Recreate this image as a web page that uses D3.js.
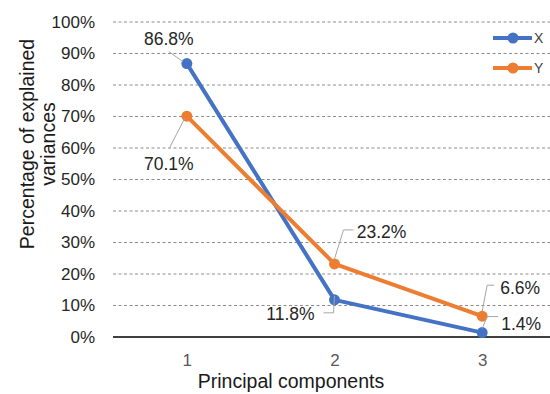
<!DOCTYPE html>
<html>
<head>
<meta charset="utf-8">
<script src="https://cdn.jsdelivr.net/npm/d3@7"></script>
<style>
  html, body { margin: 0; padding: 0; background: #fff; }
  svg { display: block; font-family: "Liberation Sans", Arial, Helvetica, sans-serif; }
</style>
</head>
<body>
<svg id="chart" width="550" height="394"></svg>
<script>
// ---- data ----
const categories = [1, 2, 3];
const seriesNames = ["X", "Y"];
const xValues = [0.868, 0.118, 0.014];
const yValues = [0.701, 0.232, 0.066];
const yTicks = [0, 0.1, 0.2, 0.3, 0.4, 0.5, 0.6, 0.7, 0.8, 0.9, 1.0];

// ---- styling / layout ----
const colors = { X: "#4472C4", Y: "#ED7D31" };
const labelLayout = {
  X: [
    { dx: -18, dy: -19, leader: [[-4, -2], [-18, -12]] },
    { dx: -44, dy: 20, leader: [[0, -4], [-1, 13], [-11, 13]] },
    { dx: 39, dy: -3, leader: [[0, -4], [5, -16], [16, -16]] }
  ],
  Y: [
    { dx: -18, dy: 54, leader: [[-2, 2], [-17, 31]] },
    { dx: 47, dy: -26, leader: [[0, -5], [9, -34], [19, -34]] },
    { dx: 38, dy: -22, leader: [[0, -5], [5, -31], [12, -31]] }
  ]
};

const svg = d3.select("#chart");
const mLeft = 113, mRight = 556, mTop = 22, mBottom = 337;

const x = d3.scalePoint().domain(categories).range([mLeft, mRight]).padding(0.5);
const y = d3.scaleLinear().domain([0, 1]).range([mBottom, mTop]);

// gridlines
svg.append("g")
  .selectAll("line")
  .data(yTicks.filter(d => d > 0))
  .join("line")
  .attr("x1", mLeft).attr("x2", 550)
  .attr("y1", d => y(d)).attr("y2", d => y(d))
  .attr("stroke", "#8c8c8c")
  .attr("stroke-width", 1)
  .attr("stroke-dasharray", "3,2.5");

// y axis tick labels
const yAxis = d3.axisLeft(y).tickValues(yTicks).tickFormat(d3.format(".0%")).tickSize(0).tickPadding(0);
const gy = svg.append("g").attr("transform", `translate(${95},0)`).call(yAxis);
gy.select(".domain").remove();
gy.selectAll("text")
  .attr("font-size", 17)
  .attr("fill", "#262626")
  .attr("font-family", "Liberation Sans, Arial, sans-serif");

// x axis baseline
svg.append("line")
  .attr("x1", mLeft).attr("x2", 550)
  .attr("y1", y(0)).attr("y2", y(0))
  .attr("stroke", "#000").attr("stroke-width", 1.6);

// x axis tick labels
const xAxis = d3.axisBottom(x).tickSize(0).tickPadding(0);
const gx = svg.append("g").attr("transform", `translate(0,${354})`).call(xAxis);
gx.select(".domain").remove();
gx.selectAll("text")
  .attr("font-size", 17)
  .attr("fill", "#595959")
  .attr("font-family", "Liberation Sans, Arial, sans-serif");

// axis titles
svg.append("text")
  .attr("x", 291).attr("y", 388)
  .attr("text-anchor", "middle")
  .attr("font-size", 19.5)
  .attr("fill", "#1a1a1a")
  .text("Principal components");

const yt = svg.append("text")
  .attr("transform", "translate(34,144) rotate(-90)")
  .attr("text-anchor", "middle")
  .attr("font-size", 19.5)
  .attr("fill", "#1a1a1a");
yt.append("tspan").attr("x", 0).attr("dy", 0).text("Percentage of explained");
yt.append("tspan").attr("x", 0).attr("dy", 21).text("variances");

// series
const series = [
  { name: "X", values: xValues },
  { name: "Y", values: yValues }
];
const line = d3.line().x((d, i) => x(categories[i])).y(d => y(d));

series.forEach(s => {
  svg.append("path")
    .datum(s.values)
    .attr("d", line)
    .attr("fill", "none")
    .attr("stroke", colors[s.name])
    .attr("stroke-width", 4)
    .attr("stroke-linejoin", "round");
  svg.append("g")
    .selectAll("circle")
    .data(s.values)
    .join("circle")
    .attr("cx", (d, i) => x(categories[i]))
    .attr("cy", d => y(d))
    .attr("r", 5.5)
    .attr("fill", colors[s.name]);
});

// labels + leader lines
const fmt = d3.format(".1%");
series.forEach(s => {
  s.values.forEach((v, i) => {
    const px = x(categories[i]), py = y(v);
    const L = labelLayout[s.name][i];
    svg.append("path")
      .attr("d", d3.line()(L.leader.map(p => [px + p[0], py + p[1]])))
      .attr("fill", "none")
      .attr("stroke", "#a6a6a6")
      .attr("stroke-width", 1);
    svg.append("text")
      .attr("x", px + L.dx).attr("y", py + L.dy)
      .attr("text-anchor", "middle")
      .attr("font-size", 17.5)
      .attr("fill", "#262626")
      .text(fmt(v));
  });
});

// legend
const legend = svg.append("g");
seriesNames.forEach((n, i) => {
  const ly = 38 + i * 30;
  legend.append("line")
    .attr("x1", 493).attr("x2", 532)
    .attr("y1", ly).attr("y2", ly)
    .attr("stroke", colors[n]).attr("stroke-width", 4);
  legend.append("circle")
    .attr("cx", 513).attr("cy", ly).attr("r", 5.5).attr("fill", colors[n]);
  legend.append("text")
    .attr("x", 534).attr("y", ly + 5)
    .attr("font-size", 14)
    .attr("fill", "#404040")
    .text(n);
});
</script>
</body>
</html>
